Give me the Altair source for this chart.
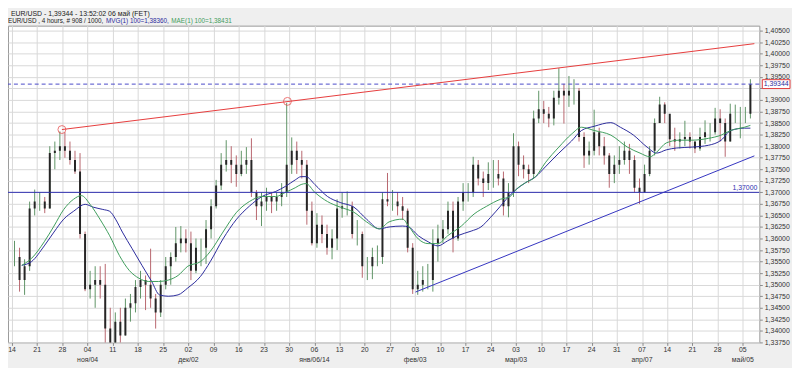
import altair as alt
import pandas as pd

# ---- daily OHLC (trading-day index 0 = Mon 14 Oct) ----
first_open = 1.3560
highs = [1.3595,1.3580,1.3555,1.3680,1.3706, 1.3700,1.3690,1.3800,1.3810,1.3832,
         1.3830,1.3810,1.3790,1.3785,1.3615, 1.3530,1.3540,1.3540,1.3545,1.3450,
         1.3440,1.3450,1.3470,1.3480,1.3510, 1.3530,1.3520,1.3578,1.3480,1.3510,
         1.3560,1.3570,1.3625,1.3627,1.3620, 1.3615,1.3600,1.3600,1.3640,1.3685,
         1.3727,1.3785,1.3813,1.3800,1.3780, 1.3790,1.3798,1.3817,1.3705,1.3700,
         1.3710,1.3700,1.3700,1.3720,1.3894, 1.3819,1.3810,1.3790,1.3770,1.3680,
         1.3655,1.3650,1.3630,1.3620,1.3685, 1.3700,1.3702,1.3680,1.3640,1.3615,
         1.3560,1.3580,1.3585,1.3700,1.3742, 1.3705,1.3700,1.3690,1.3665,1.3590,
         1.3530,1.3540,1.3545,1.3620,1.3630, 1.3640,1.3680,1.3680,1.3690,1.3720,
         1.3720,1.3777,1.3770,1.3745,1.3765, 1.3770,1.3770,1.3745,1.3720,1.3828,
         1.3810,1.3780,1.3760,1.3877,1.3920, 1.3898,1.3885,1.3920,1.3969,1.3935,
         1.3952,1.3945,1.3926,1.3830,1.3810, 1.3879,1.3840,1.3820,1.3785,1.3780,
         1.3800,1.3810,1.3805,1.3780,1.3730, 1.3760,1.3800,1.3860,1.3907,1.3895,
         1.3860,1.3840,1.3830,1.3855,1.3830, 1.3810,1.3840,1.3856,1.3850,1.3883,
         1.3880,1.3860,1.3892,1.3890,1.3885, 1.3885,1.3945]
lows = [1.3540,1.3485,1.3478,1.3530,1.3650, 1.3660,1.3655,1.3665,1.3750,1.3770,
        1.3775,1.3760,1.3740,1.3600,1.3486, 1.3470,1.3450,1.3470,1.3300,1.3300,
        1.3340,1.3350,1.3390,1.3420,1.3440, 1.3470,1.3445,1.3450,1.3405,1.3430,
        1.3490,1.3500,1.3550,1.3570,1.3570, 1.3510,1.3525,1.3540,1.3545,1.3600,
        1.3665,1.3705,1.3745,1.3720,1.3712, 1.3735,1.3740,1.3690,1.3640,1.3627,
        1.3660,1.3655,1.3660,1.3670,1.3690, 1.3740,1.3740,1.3730,1.3630,1.3585,
        1.3580,1.3590,1.3565,1.3555,1.3575, 1.3645,1.3650,1.3600,1.3585,1.3515,
        1.3510,1.3512,1.3540,1.3545,1.3670, 1.3660,1.3650,1.3640,1.3570,1.3480,
        1.3478,1.3485,1.3490,1.3485,1.3550, 1.3590,1.3610,1.3570,1.3595,1.3660,
        1.3680,1.3690,1.3715,1.3690,1.3705, 1.3710,1.3715,1.3650,1.3646,1.3690,
        1.3735,1.3730,1.3720,1.3730,1.3850, 1.3850,1.3841,1.3845,1.3890,1.3849,
        1.3885,1.3890,1.3810,1.3753,1.3760, 1.3780,1.3780,1.3760,1.3710,1.3720,
        1.3740,1.3760,1.3740,1.3700,1.3675, 1.3700,1.3735,1.3780,1.3850,1.3850,
        1.3800,1.3790,1.3795,1.3800,1.3795, 1.3785,1.3790,1.3805,1.3810,1.3825,
        1.3810,1.3777,1.3810,1.3850,1.3817, 1.3850,1.3860]
closes = [1.3560,1.3510,1.3540,1.3665,1.3680, 1.3680,1.3665,1.3785,1.3790,1.3800,
          1.3790,1.3770,1.3745,1.3610,1.3490, 1.3500,1.3510,1.3500,1.3405,1.3365,
          1.3420,1.3390,1.3450,1.3460,1.3495, 1.3510,1.3500,1.3470,1.3440,1.3500,
          1.3540,1.3560,1.3590,1.3600,1.3590, 1.3530,1.3580,1.3580,1.3620,1.3670,
          1.3715,1.3760,1.3770,1.3760,1.3740, 1.3760,1.3770,1.3700,1.3670,1.3680,
          1.3690,1.3680,1.3690,1.3700,1.3760, 1.3790,1.3770,1.3760,1.3660,1.3590,
          1.3630,1.3610,1.3580,1.3600,1.3665, 1.3670,1.3670,1.3610,1.3610,1.3540,
          1.3540,1.3560,1.3560,1.3685,1.3680, 1.3680,1.3670,1.3660,1.3580,1.3490,
          1.3500,1.3510,1.3510,1.3590,1.3600, 1.3620,1.3660,1.3600,1.3680,1.3700,
          1.3700,1.3760,1.3730,1.3720,1.3740, 1.3740,1.3730,1.3670,1.3700,1.3800,
          1.3760,1.3750,1.3740,1.3860,1.3880, 1.3870,1.3860,1.3905,1.3920,1.3910,
          1.3920,1.3920,1.3820,1.3780,1.3790, 1.3830,1.3800,1.3780,1.3740,1.3760,
          1.3770,1.3790,1.3770,1.3710,1.3700, 1.3740,1.3790,1.3850,1.3890,1.3870,
          1.3815,1.3810,1.3815,1.3820,1.3810, 1.3795,1.3820,1.3830,1.3830,1.3860,
          1.3850,1.3810,1.3870,1.3870,1.3870, 1.3870,1.3934]

# ---- moving averages (position in trading days, value) ----
mvg_pos = [1.94,3.88,6.40,8.33,10.27,12.21,14.53,16.09,18.02,19.38,20.54,21.90,23.84,25.78,27.71,
           29.26,31.01,32.95,34.88,37.40,39.34,41.86,44.57,47.09,49.61,52.33,54.26,56.20,57.36,58.33,
           60.08,62.60,65.12,67.83,70.35,72.87,74.81,77.52,78.68,80.62,82.56,84.50,86.43,88.37,91.09,
           93.02,94.96,96.90,98.06,100.0,101.9,103.9,105.8,108.5,111.0,113.0,115.5,118.8,120.7,123.3,
           126.0,127.9,129.8,131.8,134.9,138.2,140.7,142.6,145.3,146.5]
mvg_val = [1.3542,1.3550,1.3584,1.3614,1.3642,1.3659,1.3674,1.3668,1.3663,1.3659,1.3642,1.3614,1.3578,1.3542,1.3507,
           1.3478,1.3475,1.3478,1.3493,1.3518,1.3550,1.3599,1.3642,1.3670,1.3691,1.3702,1.3713,1.3727,1.3734,1.3734,
           1.3717,1.3691,1.3678,1.3668,1.3642,1.3621,1.3625,1.3627,1.3625,1.3606,1.3593,1.3584,1.3595,1.3606,1.3616,
           1.3625,1.3646,1.3670,1.3685,1.3706,1.3721,1.3734,1.3755,1.3785,1.3811,1.3834,1.3843,1.3851,1.3841,1.3824,
           1.3798,1.3785,1.3792,1.3796,1.3798,1.3802,1.3813,1.3834,1.3839,1.3839]
mae_pos = [1.94,3.88,6.40,8.33,10.27,12.21,13.76,15.50,17.44,19.38,21.32,23.26,25.19,27.13,29.07,
           31.01,32.95,34.88,37.40,39.34,41.86,44.57,47.09,49.61,52.33,54.26,56.20,57.36,58.33,60.08,
           62.60,65.12,67.83,70.35,72.87,74.81,77.52,78.68,80.62,82.56,84.50,86.43,89.15,91.67,94.19,
           96.90,98.84,100.0,101.9,103.9,105.8,108.5,111.0,113.0,115.5,118.8,122.1,124.6,126.6,127.9,
           129.8,132.4,134.9,138.2,140.7,142.6,145.3,146.5]
mae_val = [1.3542,1.3557,1.3593,1.3627,1.3663,1.3685,1.3693,1.3674,1.3642,1.3606,1.3563,1.3531,1.3514,1.3507,1.3507,
           1.3510,1.3520,1.3540,1.3550,1.3572,1.3614,1.3657,1.3680,1.3691,1.3691,1.3700,1.3710,1.3717,1.3719,1.3700,
           1.3680,1.3668,1.3657,1.3636,1.3621,1.3636,1.3642,1.3627,1.3599,1.3589,1.3589,1.3606,1.3627,1.3653,1.3670,
           1.3685,1.3691,1.3706,1.3721,1.3734,1.3764,1.3798,1.3826,1.3841,1.3834,1.3824,1.3798,1.3785,1.3777,1.3787,
           1.3807,1.3813,1.3813,1.3817,1.3824,1.3834,1.3841,1.3845]

# ---- drawn objects ----
resist_pos = [9.9, 147.29]
resist_val = [1.3836, 1.4022]
support_pos = [80.04, 147.29]
support_val = [1.3484, 1.3779]
circle_pos = [9.9, 54.65]
circle_val = [1.3836, 1.3897]
level_line = 1.37
last_price = 1.39344

# ---- axis labels ----
week_ticks = [5 * k for k in range(30)]
day_labels = ["14","21","28","04","11","18","25","02","09","16","23","30","06","13","20",
              "27","03","10","17","24","03","10","17","24","31","07","14","21","28","05"]
month_labels = ["","","","ноя/04","","","","дек/02","","","","","янв/06/14","","",
                "","фев/03","","","","мар/03","","","","","апр/07","","","","май/05"]
y_ticks = [round(1.3375 + 0.0025 * i, 4) for i in range(28)]

W, H = 759, 320
FONT = "Liberation Sans"

opens = [first_open] + closes[:-1]
candles = pd.DataFrame({
    "u": [i + 0.5 for i in range(len(closes))],
    "open": opens, "high": highs, "low": lows, "close": closes,
})
candles["dir"] = ["up" if c >= o else "down" for o, c in zip(opens, closes)]

xs = alt.Scale(domain=[0.19, 147.29], nice=False, zero=False)
ys = alt.Scale(domain=[1.3375, 1.4061], nice=False, zero=False)
XAX = alt.Axis(values=week_ticks, labels=False, grid=True, gridColor="#d9d9d9",
               tickSize=3, tickColor="#8a8a8a", domain=False, title=None)
YAX = alt.Axis(orient="right", values=y_ticks, grid=True, gridColor="#d9d9d9",
               labelExpr="abs(datum.value - 1.3925) < 0.0001 ? '' : replace(format(datum.value, '.5f'), '.', ',')",
               labelFont=FONT, labelFontSize=7, labelColor="#333", labelPadding=2,
               tickSize=3, tickColor="#8a8a8a", domain=False, title=None)

def X(f="u"):
    return alt.X(f"{f}:Q", scale=xs, axis=XAX)

def Y(f):
    return alt.Y(f"{f}:Q", scale=ys, axis=YAX)

wicks = alt.Chart(candles).mark_rule(clip=True, strokeWidth=1).encode(
    x=X(), y=Y("low"), y2="high:Q",
    color=alt.Color("dir:N", scale=alt.Scale(domain=["up", "down"], range=["#5f9466", "#b8666e"]), legend=None),
)
bodies = alt.Chart(candles).mark_bar(clip=True, size=2, color="#262626").encode(
    x=X(), y=Y("open"), y2="close:Q",
)

mvg = alt.Chart(pd.DataFrame({"u": mvg_pos, "v": mvg_val})).mark_line(
    clip=True, color="#2b2b9c", strokeWidth=1, interpolate="monotone").encode(x=X(), y=Y("v"))
mae = alt.Chart(pd.DataFrame({"u": mae_pos, "v": mae_val})).mark_line(
    clip=True, color="#3f9d5c", strokeWidth=1, interpolate="monotone").encode(x=X(), y=Y("v"))

hline = alt.Chart(pd.DataFrame({"v": [level_line]})).mark_rule(color="#2f2fb0", strokeWidth=1).encode(y=Y("v"))
dline = alt.Chart(pd.DataFrame({"v": [last_price]})).mark_rule(
    color="#4a4ac8", strokeWidth=1, strokeDash=[4, 3]).encode(y=Y("v"))

resist = alt.Chart(pd.DataFrame({"u": resist_pos, "v": resist_val})).mark_line(
    clip=True, color="#e63c3c", strokeWidth=1).encode(x=X(), y=Y("v"))
support = alt.Chart(pd.DataFrame({"u": support_pos, "v": support_val})).mark_line(
    clip=True, color="#3434c0", strokeWidth=1).encode(x=X(), y=Y("v"))
circles = alt.Chart(pd.DataFrame({"u": circle_pos, "v": circle_val})).mark_point(
    shape="circle", filled=False, color="#e63c3c", size=64, strokeWidth=1).encode(x=X(), y=Y("v"))

lvl_label = alt.Chart(pd.DataFrame({"v": [level_line], "t": ["1,37000"]})).mark_text(
    align="right", baseline="bottom", dy=-1, font=FONT, fontSize=7, color="#2f2fb0").encode(
    x=alt.value(W - 2), y=Y("v"), text="t:N")

box = alt.Chart(pd.DataFrame({"v": [last_price]})).mark_point(
    shape="M-1,-0.32L1,-0.32L1,0.32L-1,0.32Z", filled=True, fill="white", stroke="#e03a3a",
    strokeWidth=1, size=784, opacity=1).encode(x=alt.value(W + 17), y=Y("v"))
box_text = alt.Chart(pd.DataFrame({"v": [last_price], "t": ["1,39344"]})).mark_text(
    align="center", baseline="middle", font=FONT, fontSize=7, color="#2b2b9c").encode(
    x=alt.value(W + 17), y=Y("v"), text="t:N")

tick_df = pd.DataFrame({"u": week_ticks, "d": day_labels, "m": month_labels})
day_txt = alt.Chart(tick_df).mark_text(baseline="middle", font=FONT, fontSize=7, color="#333").encode(
    x=X(), y=alt.value(H + 8), text="d:N")
mon_txt = alt.Chart(tick_df).mark_text(baseline="middle", font=FONT, fontSize=7, color="#333").encode(
    x=X(), y=alt.value(H + 18), text="m:N")

def label(txt, x, y, size, color):
    return alt.Chart(pd.DataFrame({"t": [txt]})).mark_text(
        align="left", baseline="top", font=FONT, fontSize=size, color=color).encode(
        x=alt.value(x), y=alt.value(y), text="t:N")

win_title = label("EUR/USD - 1,39344 - 13:52:02 06 май (FET)", 3, -16, 7, "#1a1a1a")
hdr1 = label("EUR/USD , 4 hours, # 908 / 1000,", 0, -8, 6.4, "#1a1a1a")
hdr2 = label("MVG(1) 100=1,38360,", 99, -8, 6.4, "#2b2b9c")
hdr3 = label("MAE(1) 100=1,38431", 165, -8, 6.4, "#3f9d5c")

chart = alt.layer(
    wicks, bodies, mvg, mae, hline, dline, resist, support, circles,
    lvl_label, box, box_text, day_txt, mon_txt, win_title, hdr1, hdr2, hdr3,
).properties(
    width=W, height=H,
    padding={"left": 0, "top": 16, "right": 33, "bottom": 24},
    autosize=alt.AutoSizeParams(type="none"),
    background="#efefef",
).configure_view(stroke="#9a9a9a", fill="white")

chart.save("out.html", embed_options={"renderer": "svg", "actions": False})
